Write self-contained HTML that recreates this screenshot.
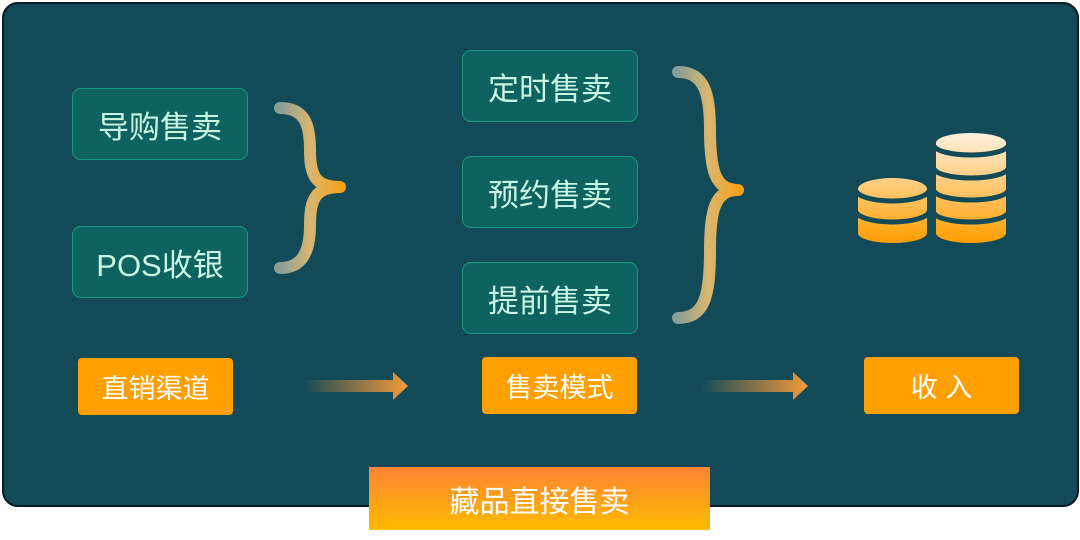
<!DOCTYPE html>
<html><head><meta charset="utf-8"><style>
body{margin:0;width:1080px;height:540px;background:#fff;position:relative;overflow:hidden;font-family:"Liberation Sans","Noto Sans CJK SC",sans-serif}
.panel{position:absolute;left:2px;top:2px;width:1073px;height:501px;background:#124a57;border:2px solid #0a1b24;border-radius:16px}
.g{position:absolute;width:176px;height:72px;background:#0e6260;border:1px solid #159a7e;border-radius:9px;box-sizing:border-box;color:#c9f6e2;font-size:31px;display:flex;align-items:center;justify-content:center}
.o{position:absolute;width:155px;height:57px;background:#ff9f00;border-radius:4px;color:#fff;font-size:27px;display:flex;align-items:center;justify-content:center}
.ban{position:absolute;left:369px;top:467px;width:341px;height:63px;background:linear-gradient(#ff8435,#ffbb00);color:#fff;font-size:30px;display:flex;align-items:center;justify-content:center}
svg{position:absolute;left:0;top:0}
</style></head><body>
<div class="panel"></div>
<div class="g" style="left:72px;top:88px">导购售卖</div>
<div class="g" style="left:72px;top:226px">POS收银</div>
<div class="g" style="left:462px;top:50px">定时售卖</div>
<div class="g" style="left:462px;top:156px">预约售卖</div>
<div class="g" style="left:462px;top:262px">提前售卖</div>
<div class="o" style="left:78px;top:358px">直销渠道</div>
<div class="o" style="left:482px;top:357px">售卖模式</div>
<div class="o" style="left:864px;top:357px">收 入</div>
<div class="ban">藏品直接售卖</div>
<svg width="1080" height="540">
<defs>
<linearGradient id="br" x1="0" x2="1"><stop offset="0" stop-color="#8a9e98"/><stop offset=".5" stop-color="#d8b670"/><stop offset="1" stop-color="#f7a21a"/></linearGradient>
<linearGradient id="ar" x1="0" x2="1"><stop offset="0" stop-color="#124a57"/><stop offset="1" stop-color="#f59a3a"/></linearGradient>
<linearGradient id="c1" x1="0" y1="0" x2="0" y2="1"><stop offset="0" stop-color="#ffd289"/><stop offset="1" stop-color="#ff9d00"/></linearGradient>
<linearGradient id="c2" x1="0" y1="0" x2="0" y2="1"><stop offset="0" stop-color="#fff1de"/><stop offset="1" stop-color="#ff9d00"/></linearGradient>
</defs>
<path d="M280 108 C305 108 310 125 310 150 C310 175 315 187 340 187 C315 187 310 200 310 225 C310 255 300 268 280 268" fill="none" stroke="url(#br)" stroke-width="12" stroke-linecap="round" stroke-linejoin="round"/>
<path d="M678 72 C705 72 710 95 710 130 C710 170 715 190 738 190 C715 190 710 210 710 250 C710 295 705 318 678 318" fill="none" stroke="url(#br)" stroke-width="12" stroke-linecap="round" stroke-linejoin="round"/>
<path d="M302 380 H393 V372 L408 386 L393 400 V392 H302 Z" fill="url(#ar)"/>
<path d="M700 380 H793 V372 L808 386 L793 400 V392 H700 Z" fill="url(#ar)"/>
<path d="M858 189 a34.5 11 0 0 1 69 0 V233 a34.5 10 0 0 1 -69 0Z" fill="url(#c1)"/>
<path d="M936 143 a35 10 0 0 1 70 0 V233 a35 10 0 0 1 -70 0Z" fill="url(#c2)"/>
<g fill="none" stroke="#124a57" stroke-width="5">
<path d="M856 190 a36.5 11 0 0 0 73 0"/>
<path d="M856 211 a36.5 11 0 0 0 73 0"/>
<path d="M934 145 a37 10 0 0 0 74 0"/>
<path d="M934 168 a37 10 0 0 0 74 0"/>
<path d="M934 190 a37 10 0 0 0 74 0"/>
<path d="M934 212 a37 10 0 0 0 74 0"/>
</g>
</svg>
</body></html>
